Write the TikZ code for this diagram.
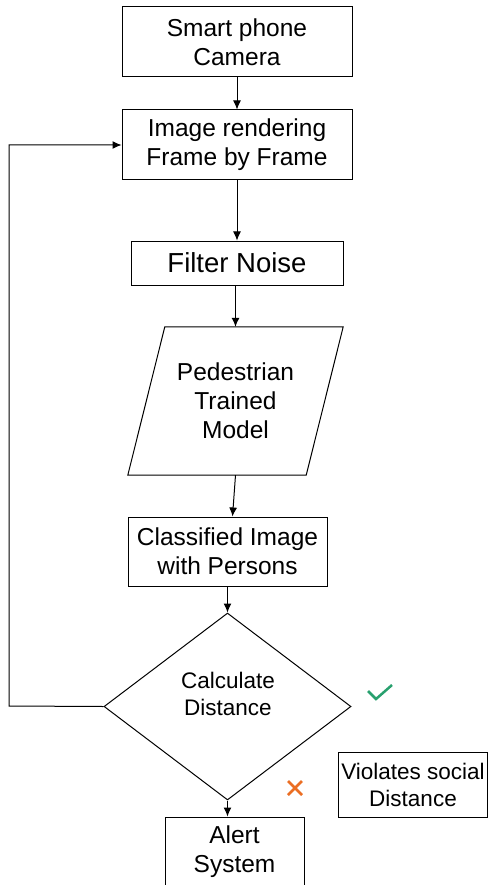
\documentclass[tikz,border=0pt]{standalone}
\usepackage{fontspec}
\setmainfont{Liberation Sans}
\usetikzlibrary{arrows.meta,shapes.geometric,calc}
\definecolor{okgreen}{RGB}{40,160,110}
\definecolor{xorange}{RGB}{235,110,35}
\begin{document}
\begin{tikzpicture}[x=1pt,y=-1pt,
  box/.style={draw=black,line width=1pt,inner sep=0pt,align=center,font=\fontsize{24.5}{29}\selectfont},
  plain/.style={inner sep=0pt,align=center,font=\fontsize{24.5}{29}\selectfont},
  arr/.style={-{Latex[length=9pt,width=8pt]},line width=1pt}]
\useasboundingbox (0,0) rectangle (488,885);
\fill[white] (0,0) rectangle (488,885);
\node[box,minimum width=230,minimum height=70] (cam) at (237,42) {Smart phone\\Camera};
\node[box,minimum width=230,minimum height=70] (img) at (237,145) {Image rendering\\Frame by Frame};
\node[box,minimum width=212,minimum height=44,font=\fontsize{27.5}{32}\selectfont] (filt) at (237,263) {Filter Noise};
\node[plain,minimum width=215,minimum height=148] (para) at (235.5,401) {Pedestrian\\Trained\\Model};
\draw[line width=1pt] (para.north west) ++(37,0) coordinate (p1) -- (para.north east) -- ($(para.south east)-(37,0)$) -- (para.south west) -- cycle;
\node[box,minimum width=199,minimum height=69] (cls) at (227.5,551.5) {Classified Image\\with Persons};
\node[draw=black,line width=1pt,shape=diamond,minimum width=247,minimum height=187,inner sep=0pt] (dia) at (227.5,706.5) {};
\node[plain,font=\fontsize{22.5}{27}\selectfont] (diatext) at (228,694) {Calculate\\Distance};
\node[box,minimum width=149,minimum height=65,font=\fontsize{22.5}{27}\selectfont] (viol) at (413,784.5) {Violates social\\Distance};
\node[box,minimum width=139,minimum height=70] (alert) at (234.5,852) {Alert\\System};
\draw[arr] (cam.south) -- (img.north);
\draw[arr] (img.south) -- (filt.north);
\draw[arr] (filt.south -| para.north) -- (para.north);
\draw[arr] (para.south) -- ($(cls.north)+(5,0)$);
\draw[arr] (cls.south) -- (dia.north);
\draw[arr] (dia.south) -- (dia.south |- alert.north);
\draw[arr] (dia.west) -- (9,706) -- (9,145) -- (img.west);
\draw[okgreen,line width=2.5pt] (368,691) -- (376,699) -- (392,685);
\draw[xorange,line width=2.5pt] (288,781) -- (302,795) (288,795) -- (302,781);
\end{tikzpicture}
\end{document}
